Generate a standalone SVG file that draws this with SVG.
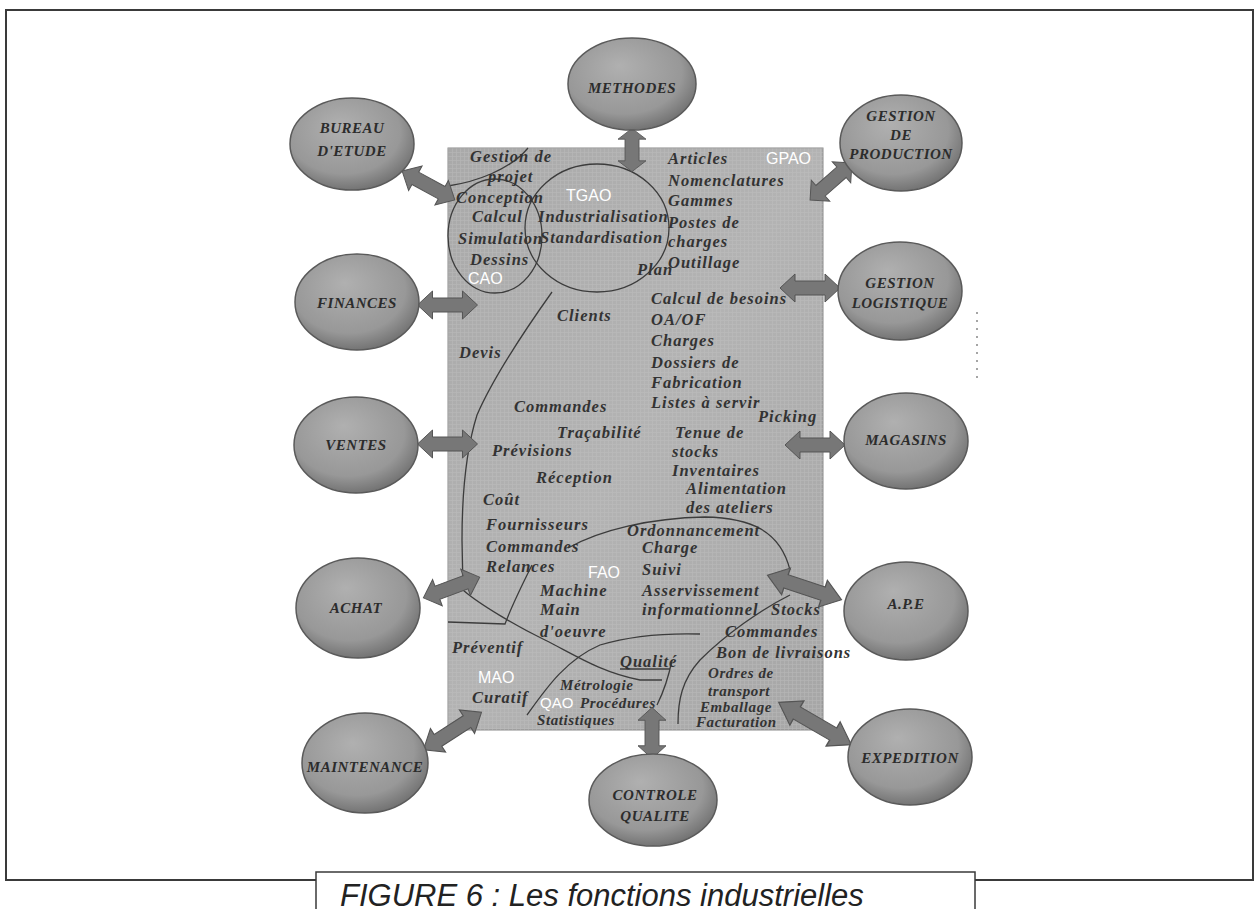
<svg xmlns="http://www.w3.org/2000/svg" width="1260" height="909" viewBox="0 0 1260 909">
<defs>
<radialGradient id="ball" cx="0.45" cy="0.4" r="0.65" fx="0.4" fy="0.3">
<stop offset="0" stop-color="#b0b0b0"/>
<stop offset="0.7" stop-color="#989898"/>
<stop offset="1" stop-color="#6a6a6a"/>
</radialGradient>
<linearGradient id="panel" x1="0" y1="0" x2="1" y2="1">
<stop offset="0" stop-color="#a9a9a9"/>
<stop offset="0.5" stop-color="#b3b3b3"/>
<stop offset="1" stop-color="#a6a6a6"/>
</linearGradient>
<pattern id="grid" width="4" height="4" patternUnits="userSpaceOnUse">
<rect width="4" height="4" fill="none"/>
<path d="M0,0.5H4M0.5,0V4" stroke="#c4c4c4" stroke-width="0.6" opacity="0.5"/>
</pattern>
<polygon id="arrH" points="0,0 15,-14 15,-7 45,-7 45,-14 60,0 45,14 45,7 15,7 15,14"/>
</defs>
<style>
.frame{fill:none;stroke:#3a3a3a;stroke-width:2}
.node ellipse{fill:url(#ball);stroke:#5a5a5a;stroke-width:1.5}
.lbl{font-family:"Liberation Serif",serif;font-style:italic;font-weight:bold;font-size:15px;fill:#2c2c2c;text-anchor:middle;letter-spacing:0.5px}
.t{font-family:"Liberation Serif",serif;font-style:italic;font-weight:bold;font-size:16.5px;fill:#333;letter-spacing:1px}
.s{font-size:15px;letter-spacing:0.6px}
.w{font-family:"Liberation Sans",sans-serif;font-size:16px;fill:#ffffff}
.arrow{fill:#777;stroke:#555;stroke-width:1}
.curve{fill:none;stroke:#3c3c3c;stroke-width:1.3}
.cap{font-family:"Liberation Sans",sans-serif;font-style:italic;font-size:31px;fill:#222}
</style>
<rect width="1260" height="909" fill="#ffffff"/>
<!-- outer frame -->
<path class="frame" d="M316,880 H6 V10 H1253 V880 H975"/>
<line x1="977" y1="312" x2="977" y2="382" stroke="#888" stroke-width="1.5" stroke-dasharray="2,6"/>
<!-- central panel -->
<g id="panel">
<rect x="448" y="148" width="375" height="582" fill="url(#panel)" stroke="#8a8a8a" stroke-width="1"/>
<rect x="448" y="148" width="375" height="582" fill="url(#grid)"/>
</g>
<!-- region curves -->
<g id="regions">
<path class="curve" d="M448,186 C475,182 510,170 528,148"/>
<ellipse class="curve" cx="495" cy="236" rx="47" ry="57"/>
<ellipse class="curve" cx="597" cy="228" rx="72" ry="64"/>
<path class="curve" d="M552,292 C525,330 492,380 477,415 C466,450 462,490 462,540 L463,590 C480,605 520,628 545,640 C575,655 600,672 640,680 L662,680"/>
<path class="curve" d="M568,548 C600,530 650,518 705,517 C750,518 780,530 790,570"/>
<path class="curve" d="M532,565 C522,585 512,605 505,624 L448,622"/>
<path class="curve" d="M527,715 C545,690 565,660 600,645 C630,636 665,633 700,634"/>
<path class="curve" d="M672,660 C668,680 662,695 657,705"/>
<path class="curve" d="M790,595 C760,610 725,635 700,660 C682,680 678,700 678,724"/>
<path class="curve" d="M620,669 L670,669"/>
</g>
<!-- panel texts -->
<g id="panel-text">
<text class="t" x="470" y="162">Gestion de</text>
<text class="t" x="488" y="182">projet</text>
<text class="t" x="456" y="203">Conception</text>
<text class="t" x="472" y="222">Calcul</text>
<text class="t" x="458" y="244">Simulation</text>
<text class="t" x="470" y="265">Dessins</text>
<text class="w" x="468" y="284">CAO</text>
<text class="w" x="566" y="201">TGAO</text>
<text class="t" x="538" y="222">Industrialisation</text>
<text class="t" x="540" y="243">Standardisation</text>
<text class="t" x="637" y="275">Plan</text>
<text class="t" x="668" y="164">Articles</text>
<text class="w" x="766" y="164">GPAO</text>
<text class="t" x="668" y="186">Nomenclatures</text>
<text class="t" x="668" y="206">Gammes</text>
<text class="t" x="668" y="228">Postes de</text>
<text class="t" x="668" y="247">charges</text>
<text class="t" x="668" y="268">Outillage</text>
<text class="t" x="651" y="304">Calcul de besoins</text>
<text class="t" x="557" y="321">Clients</text>
<text class="t" x="651" y="325">OA/OF</text>
<text class="t" x="651" y="346">Charges</text>
<text class="t" x="459" y="358">Devis</text>
<text class="t" x="651" y="368">Dossiers de</text>
<text class="t" x="651" y="388">Fabrication</text>
<text class="t" x="514" y="412">Commandes</text>
<text class="t" x="651" y="408">Listes à servir</text>
<text class="t" x="758" y="422">Picking</text>
<text class="t" x="557" y="438">Traçabilité</text>
<text class="t" x="675" y="438">Tenue de</text>
<text class="t" x="492" y="456">Prévisions</text>
<text class="t" x="672" y="457">stocks</text>
<text class="t" x="536" y="483">Réception</text>
<text class="t" x="672" y="476">Inventaires</text>
<text class="t" x="686" y="494">Alimentation</text>
<text class="t" x="686" y="513">des ateliers</text>
<text class="t" x="483" y="505">Coût</text>
<text class="t" x="486" y="530">Fournisseurs</text>
<text class="t" x="627" y="536">Ordonnancement</text>
<text class="t" x="486" y="552">Commandes</text>
<text class="t" x="642" y="553">Charge</text>
<text class="t" x="486" y="572">Relances</text>
<text class="w" x="588" y="578">FAO</text>
<text class="t" x="642" y="575">Suivi</text>
<text class="t" x="540" y="596">Machine</text>
<text class="t" x="642" y="596">Asservissement</text>
<text class="t" x="540" y="615">Main</text>
<text class="t" x="642" y="615">informationnel</text>
<text class="t" x="771" y="615">Stocks</text>
<text class="t" x="540" y="637">d'oeuvre</text>
<text class="t" x="725" y="637">Commandes</text>
<text class="t" x="452" y="653">Préventif</text>
<text class="t" x="716" y="658">Bon de livraisons</text>
<text class="t" x="620" y="667">Qualité</text>
<text class="t s" x="708" y="678">Ordres de</text>
<text class="w" x="478" y="683">MAO</text>
<text class="t s" x="560" y="690">Métrologie</text>
<text class="t s" x="708" y="696">transport</text>
<text class="t" x="472" y="703">Curatif</text>
<text class="w" x="540" y="708" style="font-size:15px">QAO</text>
<text class="t s" x="580" y="708">Procédures</text>
<text class="t s" x="700" y="712">Emballage</text>
<text class="t s" x="537" y="725">Statistiques</text>
<text class="t s" x="696" y="727">Facturation</text>
</g>
<!-- connectors -->
<g id="connectors">
<use href="#arrH" class="arrow" transform="translate(428.5,185.5) rotate(28.7) translate(-30,0)"/>
<use href="#arrH" class="arrow" transform="translate(632,150) rotate(90) scale(0.72,1) translate(-30,0)"/>
<use href="#arrH" class="arrow" transform="translate(831,181.5) rotate(-41.4) scale(0.93,1) translate(-30,0)"/>
<use href="#arrH" class="arrow" transform="translate(447.5,305) translate(-30,0)"/>
<use href="#arrH" class="arrow" transform="translate(810,288) translate(-30,0)"/>
<use href="#arrH" class="arrow" transform="translate(447.5,444) translate(-30,0)"/>
<use href="#arrH" class="arrow" transform="translate(815,445) translate(-30,0)"/>
<use href="#arrH" class="arrow" transform="translate(451.5,587.5) rotate(-20.2) translate(-30,0)"/>
<use href="#arrH" class="arrow" transform="translate(804.5,587.5) rotate(18.4) scale(1.3,1) translate(-30,0)"/>
<use href="#arrH" class="arrow" transform="translate(452.5,731) rotate(-32.8) scale(1.15,1) translate(-30,0)"/>
<use href="#arrH" class="arrow" transform="translate(652,733) rotate(90) scale(0.85,1) translate(-30,0)"/>
<use href="#arrH" class="arrow" transform="translate(815,723.5) rotate(30.2) scale(1.4,1) translate(-30,0)"/>
</g>
<!-- nodes -->
<g id="bureau" class="node"><ellipse cx="352" cy="144" rx="62" ry="46"/><text class="lbl" x="352" y="133">BUREAU</text><text class="lbl" x="352" y="156">D'ETUDE</text></g>
<g id="methodes" class="node"><ellipse cx="632" cy="84" rx="64" ry="46"/><text class="lbl" x="632" y="93">METHODES</text></g>
<g id="gestion-production" class="node"><ellipse cx="901" cy="143" rx="61" ry="48"/><text class="lbl" x="901" y="121">GESTION</text><text class="lbl" x="901" y="140">DE</text><text class="lbl" x="901" y="159">PRODUCTION</text></g>
<g id="finances" class="node"><ellipse cx="357" cy="302" rx="62" ry="48"/><text class="lbl" x="357" y="308">FINANCES</text></g>
<g id="gestion-logistique" class="node"><ellipse cx="900" cy="291" rx="62" ry="49"/><text class="lbl" x="900" y="288">GESTION</text><text class="lbl" x="900" y="308">LOGISTIQUE</text></g>
<g id="ventes" class="node"><ellipse cx="356" cy="445" rx="62" ry="48"/><text class="lbl" x="356" y="450">VENTES</text></g>
<g id="magasins" class="node"><ellipse cx="906" cy="441" rx="62" ry="48"/><text class="lbl" x="906" y="445">MAGASINS</text></g>
<g id="achat" class="node"><ellipse cx="358" cy="608" rx="62" ry="50"/><text class="lbl" x="356" y="613">ACHAT</text></g>
<g id="ape" class="node"><ellipse cx="906" cy="611" rx="62" ry="49"/><text class="lbl" x="906" y="609">A.P.E</text></g>
<g id="maintenance" class="node"><ellipse cx="365" cy="763" rx="63" ry="50"/><text class="lbl" x="365" y="772">MAINTENANCE</text></g>
<g id="expedition" class="node"><ellipse cx="910" cy="757" rx="62" ry="48"/><text class="lbl" x="910" y="763">EXPEDITION</text></g>
<g id="controle-qualite" class="node"><ellipse cx="653" cy="800" rx="64" ry="46"/><text class="lbl" x="655" y="800">CONTROLE</text><text class="lbl" x="655" y="821">QUALITE</text></g>
<!-- caption -->
<g id="caption">
<rect x="316" y="872" width="659" height="60" fill="#ffffff" stroke="#3a3a3a" stroke-width="1.5"/>
<text class="cap" x="340" y="906">FIGURE 6 : Les fonctions industrielles</text>
</g>
</svg>
